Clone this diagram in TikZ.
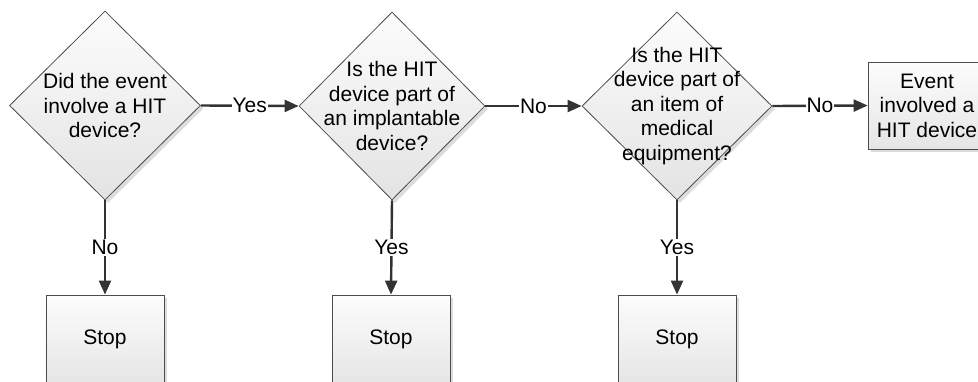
\documentclass[tikz,border=0pt]{standalone}
\usepackage{fontspec}
\setmainfont{Liberation Sans}
\usetikzlibrary{shapes.geometric,arrows.meta,shadows}
\begin{document}
\begin{tikzpicture}[x=1bp,y=-1bp,
  softshadow/.style={drop shadow={shadow xshift=3bp, shadow yshift=-3bp, fill=black!30, opacity=0.45}},
  decision/.style={diamond, aspect=1, draw=black!70, line width=0.8bp,
    top color=black!1, bottom color=black!11, inner sep=0pt, softshadow},
  stepbox/.style={rectangle, draw=black!70, line width=0.8bp,
    top color=black!1, bottom color=black!10, minimum width=118bp,
    minimum height=88bp, inner sep=0pt, softshadow},
  txt/.style={align=center, inner sep=0pt, font=\fontsize{21bp}{24.5bp}\selectfont},
  conn/.style={draw=black!80, line width=2.4bp, -{Triangle[length=14bp,width=12bp]}},
  lab/.style={fill=white, inner sep=1bp, font=\fontsize{21bp}{24bp}\selectfont}]
\useasboundingbox (0,0) rectangle (978,381);
\clip (0,0) rectangle (978,381);

% decision diamonds
\node[decision, minimum width=191bp, minimum height=189bp] (d1) at (105,105.5) {};
\node[decision, minimum width=186bp, minimum height=188bp] (d2) at (392,106) {};
\node[decision, minimum width=190bp, minimum height=188bp] (d3) at (677,106) {};

\node[txt] (t1) at (d1.center) {Did the event\\involve a HIT\\device?};
\node[txt] (t2) at (d2.center) {Is the HIT\\device part of\\an implantable\\device?};
\node[txt] (t3) at (d3.center) {Is the HIT\\device part of\\an item of\\medical\\equipment?};

% outcome boxes
\node[stepbox] (s1) at (105,339) {};
\node[stepbox] (s2) at (391,339) {};
\node[stepbox] (s3) at (677,339) {};
\node[txt] (u1) at (s1.center) {Stop};
\node[txt] (u2) at (s2.center) {Stop};
\node[txt] (u3) at (s3.center) {Stop};

\node[stepbox, minimum width=126bp, minimum height=87bp] (e) at (931,105.5) {};
\node[txt] (te) at (927,105.5) {Event\\involved a\\HIT device};

% connectors
\draw[conn] (d1.east) -- node[lab] {Yes} (d2.west);
\draw[conn] (d2.east) -- node[lab] {No} (d3.west);
\draw[conn] (d3.east) -- node[lab] {No} (e.west);
\draw[conn] (d1.south) -- node[lab] {No} (s1.north);
\draw[conn] (d2.south) -- node[lab] {Yes} (s2.north);
\draw[conn] (d3.south) -- node[lab] {Yes} (s3.north);
\end{tikzpicture}
\end{document}
